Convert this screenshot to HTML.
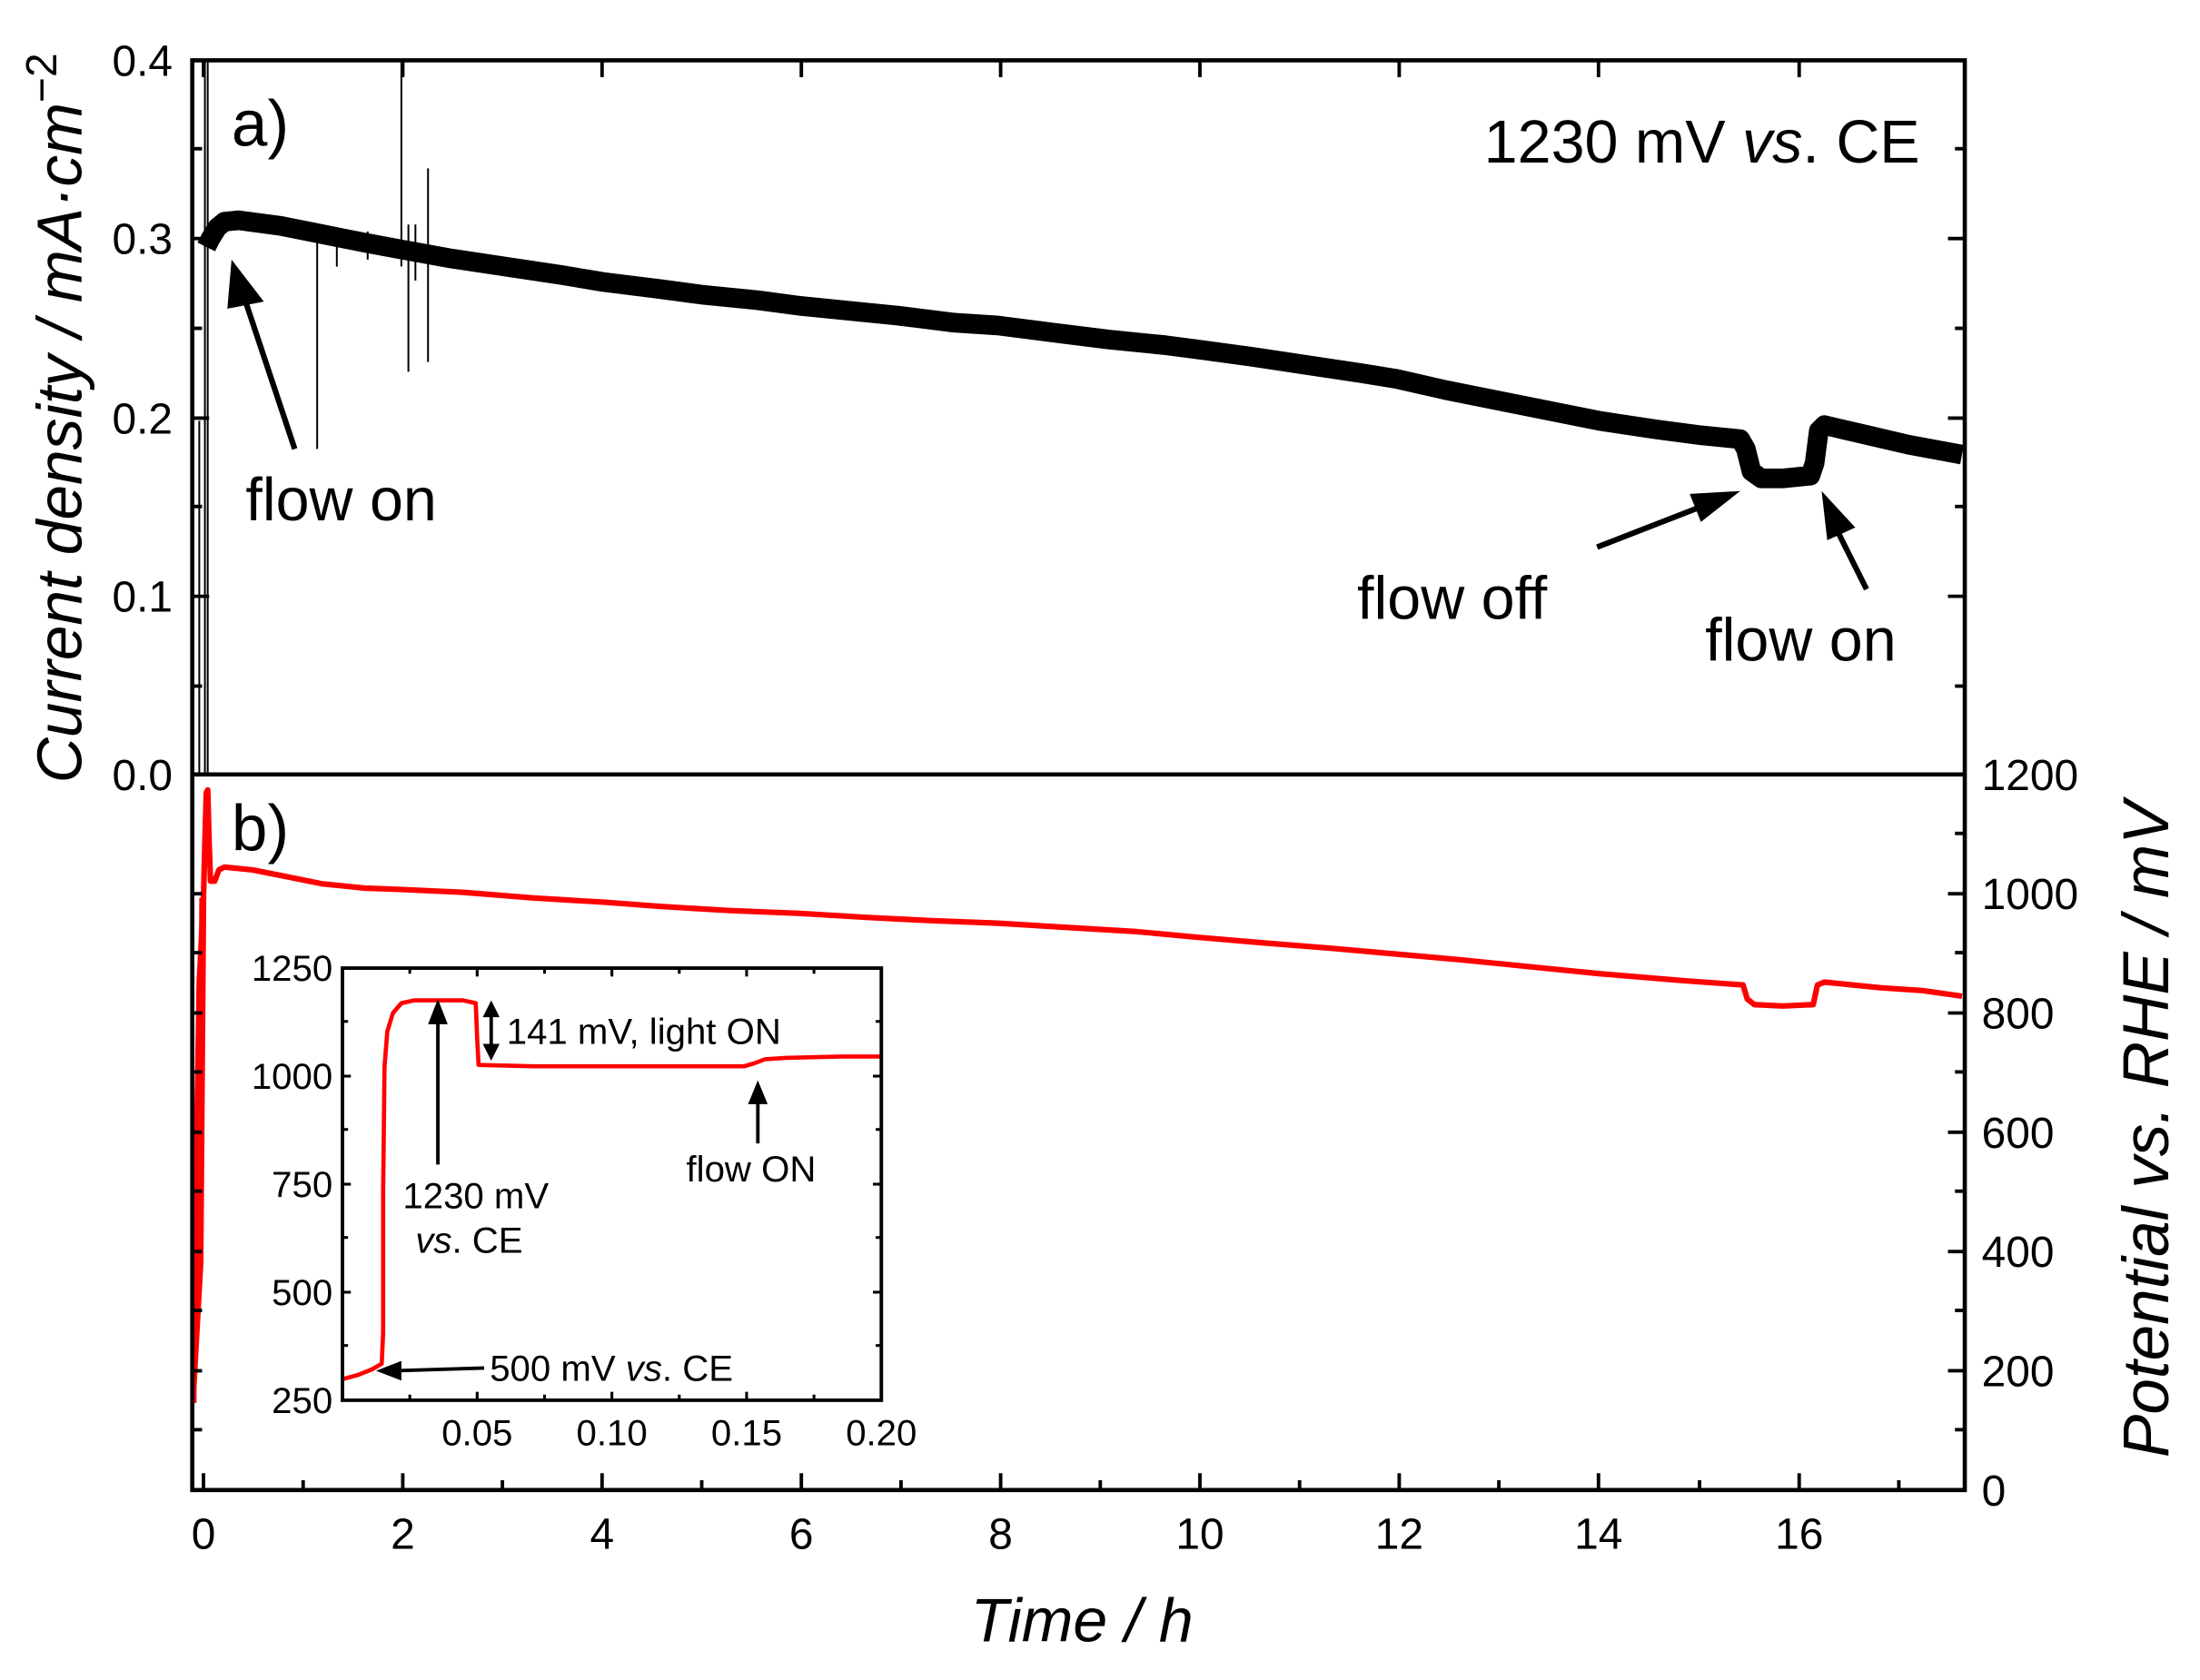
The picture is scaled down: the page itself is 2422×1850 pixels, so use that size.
<!DOCTYPE html>
<html><head><meta charset="utf-8"><style>
html,body{margin:0;padding:0;background:#fff;}
svg{display:block;}
text{font-family:"Liberation Sans",sans-serif;fill:#000;}
.t{font-size:31px;}
.n{font-family:"Liberation Sans Narrow","Liberation Sans",sans-serif;font-size:26px;}
</style></head><body>
<svg width="2422" height="1850" viewBox="0 0 1567.6 1197.4" preserveAspectRatio="none" xmlns="http://www.w3.org/2000/svg">
<rect width="1567.6" height="1197.4" fill="#fff"/>

<!-- top black band -->
<polyline fill="none" stroke="#000" stroke-width="14" stroke-linejoin="round"
points="147,176 150,170 155,162 160,158 170,157 200,161 230,167 260,173 287,178 320,184 360,190 400,196 430,201 470,206 500,210 540,214 570,218 610,222 640,225 680,230 711,232 750,237 790,242 830,246 853,249 890,254 930,260 970,266 995,270 1030,278 1070,286 1110,294 1140,300 1180,306 1210,310 1240,313 1244,320 1248,336 1255,341 1270,341 1290,339 1293,330 1296,307 1300,303 1330,310 1360,317 1398,324"/>
<g stroke="#000" stroke-width="1.3">
<line x1="146" y1="43" x2="146" y2="552"/>
<line x1="148" y1="43" x2="148" y2="552"/>
<line x1="142" y1="300" x2="142" y2="552"/>
<line x1="226" y1="160" x2="226" y2="320"/>
<line x1="286" y1="43" x2="286" y2="190"/>
<line x1="291" y1="160" x2="291" y2="265"/>
<line x1="296" y1="160" x2="296" y2="200"/>
<line x1="305" y1="120" x2="305" y2="258"/>
<line x1="240" y1="170" x2="240" y2="190"/>
<line x1="262" y1="165" x2="262" y2="185"/>
</g>

<!-- bottom red -->
<polyline fill="none" stroke="#f00" stroke-width="4" stroke-linejoin="round"
points="138,1000 139,900 140,820 141,760 142,700 143,680 144,660 145,640 146,600 147,565 148,563 149,600 150,628 153,628 156,620 160,618 180,620 200,624 230,630 260,633 287,634 330,636 380,640 430,643 470,646 520,649 570,651 620,654 660,656 711,658 760,661 810,664 853,668 900,672 950,676 995,680 1040,684 1090,689 1140,694 1200,699 1242,702 1245,712 1250,716 1270,717 1292,716 1295,702 1300,700 1340,704 1370,706 1398,710"/>
<path d="M140,990 L142,640 L147,640 L145,900 Z" fill="#f00"/>

<!-- main axes -->
<g stroke="#000" stroke-width="3" fill="none">
<rect x="137" y="43" width="1263" height="1019"/>
<line x1="137" y1="552" x2="1400" y2="552"/>
</g>
<g stroke="#000" stroke-width="2.5">
<line x1="137" y1="43" x2="149" y2="43"/><line x1="137" y1="170" x2="149" y2="170"/><line x1="137" y1="298" x2="149" y2="298"/><line x1="137" y1="425" x2="149" y2="425"/>
<line x1="137" y1="106" x2="144" y2="106"/><line x1="137" y1="234" x2="144" y2="234"/><line x1="137" y1="361" x2="144" y2="361"/><line x1="137" y1="489" x2="144" y2="489"/>
<line x1="137" y1="637" x2="144" y2="637"/><line x1="137" y1="679" x2="144" y2="679"/><line x1="137" y1="722" x2="144" y2="722"/><line x1="137" y1="764" x2="144" y2="764"/><line x1="137" y1="807" x2="144" y2="807"/><line x1="137" y1="849" x2="144" y2="849"/><line x1="137" y1="892" x2="144" y2="892"/><line x1="137" y1="934" x2="144" y2="934"/><line x1="137" y1="977" x2="144" y2="977"/><line x1="137" y1="1019" x2="144" y2="1019"/>
<line x1="1400" y1="106" x2="1393" y2="106"/><line x1="1400" y1="170" x2="1388" y2="170"/><line x1="1400" y1="234" x2="1393" y2="234"/><line x1="1400" y1="298" x2="1388" y2="298"/><line x1="1400" y1="361" x2="1393" y2="361"/><line x1="1400" y1="425" x2="1388" y2="425"/><line x1="1400" y1="489" x2="1393" y2="489"/>
<line x1="1400" y1="594" x2="1393" y2="594"/><line x1="1400" y1="637" x2="1388" y2="637"/><line x1="1400" y1="679" x2="1393" y2="679"/><line x1="1400" y1="722" x2="1388" y2="722"/><line x1="1400" y1="764" x2="1393" y2="764"/><line x1="1400" y1="807" x2="1388" y2="807"/><line x1="1400" y1="849" x2="1393" y2="849"/><line x1="1400" y1="892" x2="1388" y2="892"/><line x1="1400" y1="934" x2="1393" y2="934"/><line x1="1400" y1="977" x2="1388" y2="977"/><line x1="1400" y1="1019" x2="1393" y2="1019"/>
<line x1="145" y1="1062" x2="145" y2="1050"/><line x1="216" y1="1062" x2="216" y2="1055"/><line x1="287" y1="1062" x2="287" y2="1050"/><line x1="358" y1="1062" x2="358" y2="1055"/><line x1="429" y1="1062" x2="429" y2="1050"/><line x1="500" y1="1062" x2="500" y2="1055"/><line x1="571" y1="1062" x2="571" y2="1050"/><line x1="642" y1="1062" x2="642" y2="1055"/><line x1="713" y1="1062" x2="713" y2="1050"/><line x1="784" y1="1062" x2="784" y2="1055"/><line x1="855" y1="1062" x2="855" y2="1050"/><line x1="926" y1="1062" x2="926" y2="1055"/><line x1="997" y1="1062" x2="997" y2="1050"/><line x1="1068" y1="1062" x2="1068" y2="1055"/><line x1="1139" y1="1062" x2="1139" y2="1050"/><line x1="1211" y1="1062" x2="1211" y2="1055"/><line x1="1282" y1="1062" x2="1282" y2="1050"/><line x1="1353" y1="1062" x2="1353" y2="1055"/>
<line x1="145" y1="43" x2="145" y2="55"/><line x1="287" y1="43" x2="287" y2="55"/><line x1="429" y1="43" x2="429" y2="55"/><line x1="571" y1="43" x2="571" y2="55"/><line x1="713" y1="43" x2="713" y2="55"/><line x1="855" y1="43" x2="855" y2="55"/><line x1="997" y1="43" x2="997" y2="55"/><line x1="1139" y1="43" x2="1139" y2="55"/><line x1="1282" y1="43" x2="1282" y2="55"/>
</g>

<g class="t" text-anchor="end">
<text x="123" y="54">0.4</text><text x="123" y="181">0.3</text><text x="123" y="309">0.2</text><text x="123" y="436">0.1</text><text x="123" y="563">0.0</text>
</g>
<g class="t" text-anchor="start">
<text x="1412" y="563">1200</text><text x="1412" y="648">1000</text><text x="1412" y="733">800</text><text x="1412" y="818">600</text><text x="1412" y="903">400</text><text x="1412" y="988">200</text><text x="1412" y="1073">0</text>
</g>
<g class="t" text-anchor="middle">
<text x="145" y="1104">0</text><text x="287" y="1104">2</text><text x="429" y="1104">4</text><text x="571" y="1104">6</text><text x="713" y="1104">8</text><text x="855" y="1104">10</text><text x="997" y="1104">12</text><text x="1139" y="1104">14</text><text x="1282" y="1104">16</text>
</g>

<text x="771" y="1170" text-anchor="middle" font-size="44" font-style="italic">Time / h</text>
<text transform="translate(58,298) rotate(-90)" text-anchor="middle" font-size="45"><tspan font-style="italic">Current density / mA·cm</tspan><tspan font-size="31" dy="-18">−2</tspan></text>
<text transform="translate(1545,805) rotate(-90)" text-anchor="middle" font-size="46" font-style="italic">Potential vs. RHE / mV</text>

<text x="165" y="104" font-size="46">a)</text>
<text x="165" y="606" font-size="46">b)</text>
<text x="1368" y="116" font-size="43" text-anchor="end">1230 mV <tspan font-style="italic">vs</tspan>. CE</text>
<text x="175" y="371" font-size="43">flow on</text>
<text x="967" y="441" font-size="43">flow off</text>
<text x="1215" y="471" font-size="43">flow on</text>
<g stroke="#000" stroke-width="4">
<line x1="210" y1="320" x2="175" y2="215"/>
<line x1="1138" y1="390" x2="1215" y2="360"/>
<line x1="1330" y1="420" x2="1310" y2="380"/>
</g>
<polygon points="165,185 188,215 162,220" fill="#000"/>
<polygon points="1240,350 1212,372 1204,352" fill="#000"/>
<polygon points="1298,350 1322,376 1302,385" fill="#000"/>

<!-- inset -->
<polyline fill="none" stroke="#f00" stroke-width="3" stroke-linejoin="round"
points="244,983 255,980 265,976 272,972 273,950 273,850 274,760 276,735 280,722 286,715 295,713 330,713 339,715 340,740 341,759 380,760 450,760 530,760 537,758 545,755 560,754 600,753 628,753"/>
<g stroke="#000" stroke-width="2.5" fill="none"><rect x="244" y="690" width="384" height="308"/></g>
<g stroke="#000" stroke-width="2">
<line x1="244" y1="767" x2="250" y2="767"/><line x1="244" y1="844" x2="250" y2="844"/><line x1="244" y1="921" x2="250" y2="921"/>
<line x1="244" y1="728" x2="248" y2="728"/><line x1="244" y1="805" x2="248" y2="805"/><line x1="244" y1="882" x2="248" y2="882"/><line x1="244" y1="959" x2="248" y2="959"/>
<line x1="628" y1="767" x2="622" y2="767"/><line x1="628" y1="844" x2="622" y2="844"/><line x1="628" y1="921" x2="622" y2="921"/>
<line x1="628" y1="728" x2="624" y2="728"/><line x1="628" y1="805" x2="624" y2="805"/><line x1="628" y1="882" x2="624" y2="882"/><line x1="628" y1="959" x2="624" y2="959"/>
<line x1="340" y1="998" x2="340" y2="992"/><line x1="436" y1="998" x2="436" y2="992"/><line x1="532" y1="998" x2="532" y2="992"/>
<line x1="292" y1="998" x2="292" y2="994"/><line x1="388" y1="998" x2="388" y2="994"/><line x1="484" y1="998" x2="484" y2="994"/><line x1="580" y1="998" x2="580" y2="994"/>
<line x1="340" y1="690" x2="340" y2="696"/><line x1="436" y1="690" x2="436" y2="696"/><line x1="532" y1="690" x2="532" y2="696"/>
<line x1="292" y1="690" x2="292" y2="694"/><line x1="388" y1="690" x2="388" y2="694"/><line x1="484" y1="690" x2="484" y2="694"/><line x1="580" y1="690" x2="580" y2="694"/>
</g>
<g class="n" text-anchor="end">
<text x="237" y="699">1250</text><text x="237" y="776">1000</text><text x="237" y="853">750</text><text x="237" y="930">500</text><text x="237" y="1007">250</text>
</g>
<g class="n" text-anchor="middle">
<text x="340" y="1030">0.05</text><text x="436" y="1030">0.10</text><text x="532" y="1030">0.15</text><text x="628" y="1030">0.20</text>
</g>
<text class="n" x="361" y="744">141 mV, light ON</text>
<text class="n" x="287" y="861">1230 mV</text>
<text class="n" x="296" y="893"><tspan font-style="italic">vs</tspan>. CE</text>
<text class="n" x="489" y="842">flow ON</text>
<text class="n" x="349" y="984">500 mV <tspan font-style="italic">vs</tspan>. CE</text>
<g stroke="#000" stroke-width="2.5">
<line x1="350" y1="722" x2="350" y2="748"/>
<line x1="312" y1="830" x2="312" y2="725"/>
<line x1="540" y1="815" x2="540" y2="783"/>
<line x1="345" y1="975" x2="282" y2="977"/>
</g>
<polygon points="350,713 344,725 356,725" fill="#000"/>
<polygon points="350,756 344,744 356,744" fill="#000"/>
<polygon points="312,712 305,730 319,730" fill="#000"/>
<polygon points="540,770 533,787 547,787" fill="#000"/>
<polygon points="268,977 286,970 286,984" fill="#000"/>
</svg>
</body></html>
